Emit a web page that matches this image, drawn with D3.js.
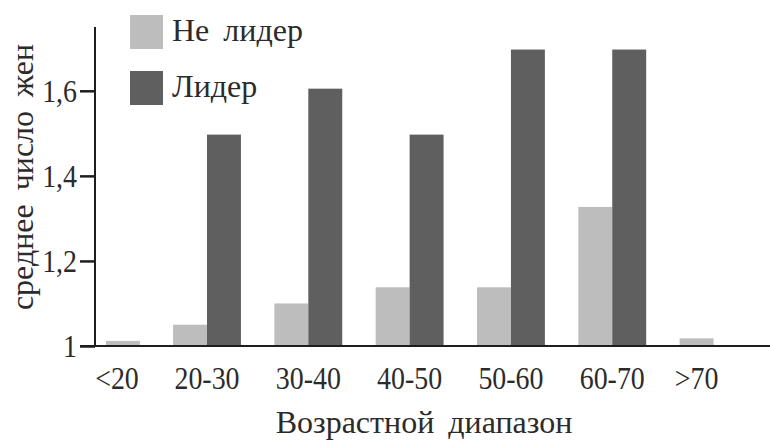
<!DOCTYPE html>
<html>
<head>
<meta charset="utf-8">
<script src="https://cdn.jsdelivr.net/npm/d3@7"></script>
<style>
  body { margin: 0; background: #fff; }
  text { font-family: "Liberation Serif", "DejaVu Serif", serif; fill: #2b2b2b; }
</style>
</head>
<body>
<div id="chart"></div>
<script>
// данные
const categories = ["<20", "20-30", "30-40", "40-50", "50-60", "60-70", ">70"];
const seriesNames = ["Не лидер", "Лидер"];
const nonLeader = [1.012, 1.05, 1.10, 1.138, 1.138, 1.327, 1.018];
const leader = [null, 1.497, 1.605, 1.497, 1.697, 1.697, null];
const yTicks = [1, 1.2, 1.4, 1.6];

const width = 770, height = 441;
const axisX = 95, baseY = 346, topY = 27;
const colors = ["#bdbdbd", "#5f5f5f"];
const numSize = 31, squeeze = 0.9;   // цифры — узкие
const wordSize = 32;                 // подписи словами

const svg = d3.select("#chart").append("svg")
  .attr("width", width).attr("height", height);

const y = d3.scaleLinear().domain([1, 1.75]).range([baseY, topY]);

const x = d3.scaleBand()
  .domain(categories)
  .range([71.75, 747.5])
  .paddingInner(0.33)
  .paddingOuter(0);

const xSub = d3.scaleBand().domain(seriesNames).range([0, x.bandwidth()]);

const rows = categories.map((c, i) => ({
  cat: c,
  vals: [nonLeader[i], leader[i]]
}));

// столбцы (не залезают на ось Y)
const barLeft = (d, k) => Math.max(x(d.cat) + xSub(seriesNames[k]), axisX + 11 + xSub(seriesNames[k]));

rows.forEach(d => {
  d.vals.forEach((v, k) => {
    if (v == null) return;
    svg.append("rect")
      .attr("x", barLeft(d, k))
      .attr("y", y(v))
      .attr("width", xSub.bandwidth())
      .attr("height", y(1) - y(v))
      .attr("fill", colors[k]);
  });
});

// ось X
svg.append("line")
  .attr("x1", 80).attr("x2", width)
  .attr("y1", baseY).attr("y2", baseY)
  .attr("stroke", "#1e1e1e").attr("stroke-width", 2);

// ось Y
const yAxis = svg.append("g")
  .attr("transform", `translate(${axisX},0)`)
  .call(d3.axisLeft(y).tickValues(yTicks).tickSize(15).tickPadding(4)
    .tickFormat(d => String(d).replace(".", ",")));
yAxis.select(".domain").remove();
yAxis.selectAll(".tick line").attr("stroke", "#1e1e1e").attr("stroke-width", 2.5);
yAxis.selectAll(".tick text")
  .attr("font-size", numSize).attr("font-family", "Liberation Serif")
  .attr("fill", "#2b2b2b").attr("dy", "0.35em")
  .attr("transform", `scale(${squeeze},1)`)
  .attr("x", -18 / squeeze);
svg.append("line")
  .attr("x1", axisX).attr("x2", axisX)
  .attr("y1", topY).attr("y2", baseY + 1)
  .attr("stroke", "#1e1e1e").attr("stroke-width", 2);

// подписи категорий
rows.forEach(d => {
  const present = d.vals.map((v, k) => v == null ? null : k).filter(k => k != null);
  const l = barLeft(d, present[0]);
  const r = barLeft(d, present[present.length - 1]) + xSub.bandwidth();
  const cx = (l + r) / 2 - (d.cat === categories[0] ? 6 : 0);
  svg.append("text")
    .attr("transform", `translate(${cx},389) scale(${squeeze},1)`)
    .attr("text-anchor", "middle")
    .attr("font-size", numSize)
    .text(d.cat);
});

// заголовки осей
svg.append("text")
  .attr("x", 424).attr("y", 433)
  .attr("text-anchor", "middle")
  .attr("font-size", wordSize)
  .attr("word-spacing", 6)
  .text("Возрастной диапазон");

svg.append("text")
  .attr("transform", "translate(33,177) rotate(-90)")
  .attr("text-anchor", "middle")
  .attr("font-size", wordSize)
  .attr("word-spacing", 6)
  .text("среднее число жен");

// легенда
const legend = svg.append("g").attr("transform", "translate(130,15)");
seriesNames.forEach((s, i) => {
  legend.append("rect")
    .attr("x", 0).attr("y", i * 56)
    .attr("width", 33).attr("height", 34)
    .attr("fill", colors[i]);
  legend.append("text")
    .attr("x", 42).attr("y", i * 56 + 26)
    .attr("font-size", wordSize)
    .attr("word-spacing", 6)
    .text(s);
});
</script>
</body>
</html>
